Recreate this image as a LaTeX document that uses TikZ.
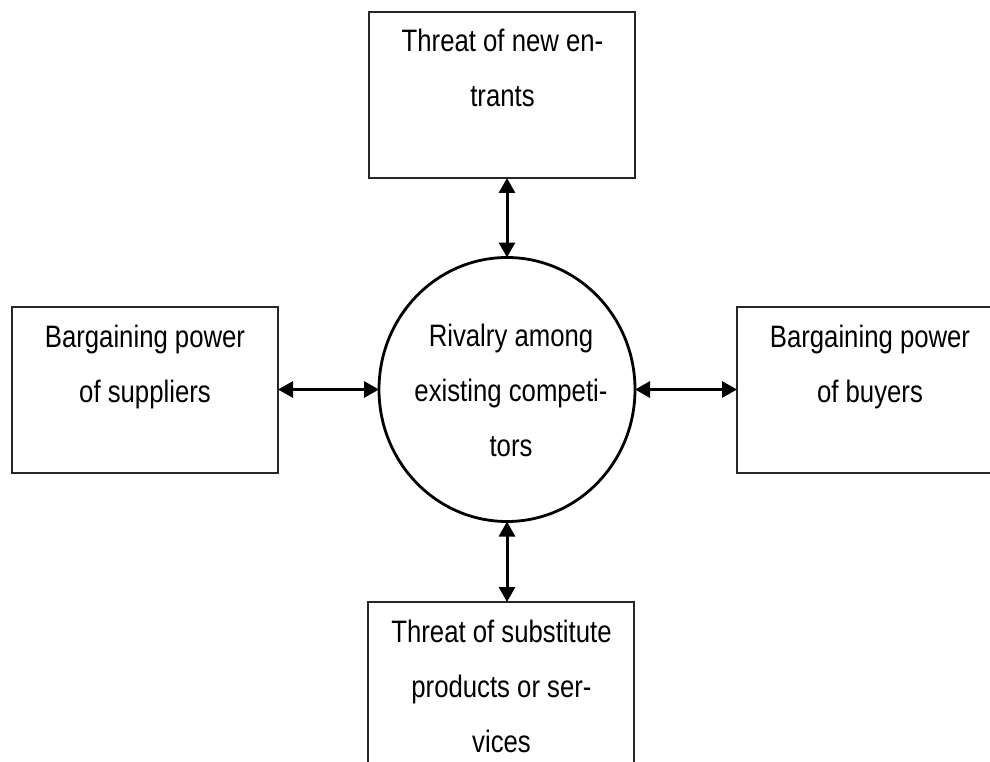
\documentclass[tikz,border=0pt]{standalone}
\usepackage{fontspec}
\setmainfont{Liberation Sans}[FakeStretch=0.83]
\usetikzlibrary{arrows.meta,shapes.geometric}

\tikzset{
  forcebox/.style={draw=black!85, line width=1.4pt, fill=white, inner sep=0pt,
    outer sep=0pt, anchor=north west, minimum width=266pt, minimum height=166pt},
  forcetext/.style={anchor=north, inner sep=0pt, align=center,
    font=\fontsize{31}{55}\selectfont},
  hub/.style={ellipse, draw=black, line width=2.8pt, inner sep=0pt, outer sep=0pt,
    minimum width=256pt, minimum height=264pt},
  link/.style={line width=3pt, draw=black,
    {Triangle[length=15pt,width=16pt]}-{Triangle[length=15pt,width=16pt]}}
}
\newcommand{\firststrut}{\rule{0pt}{40pt}}

\begin{document}
\begin{tikzpicture}[x=1pt,y=-1pt]
  \useasboundingbox (0,0) rectangle (990,762);
  \clip (0,0) rectangle (990,762);

  % the four forces
  \node[forcebox] (entrants) at (369,12) {};
  \node[forcebox] (suppliers) at (12,307) {};
  \node[forcebox] (buyers) at (737,307) {};
  \node[forcebox, minimum height=200pt] (substitutes) at (368,602) {};

  \node[forcetext] (entrantsT) at (502.5,11) {\firststrut Threat of new en-\\trants};
  \node[forcetext] (suppliersT) at (145,307) {\firststrut Bargaining power\\of suppliers};
  \node[forcetext] (buyersT) at (870,307) {\firststrut Bargaining power\\of buyers};
  \node[forcetext] (substitutesT) at (501.5,602) {\firststrut Threat of substitute\\products or ser-\\vices};

  % industry rivalry in the centre
  \node[hub] (rivalry) at (507,389.5) {};
  \node[forcetext] (rivalryT) at (511,306) {\firststrut Rivalry among\\existing competi-\\tors};

  % two-way influences
  \draw[link] (rivalry.north) -- (rivalry.north |- entrants.south);
  \draw[link] (rivalry.south) -- (rivalry.south |- substitutes.north);
  \draw[link] (rivalry.west) -- (rivalry.west -| suppliers.east);
  \draw[link] (rivalry.east) -- (rivalry.east -| buyers.west);
\end{tikzpicture}
\end{document}
